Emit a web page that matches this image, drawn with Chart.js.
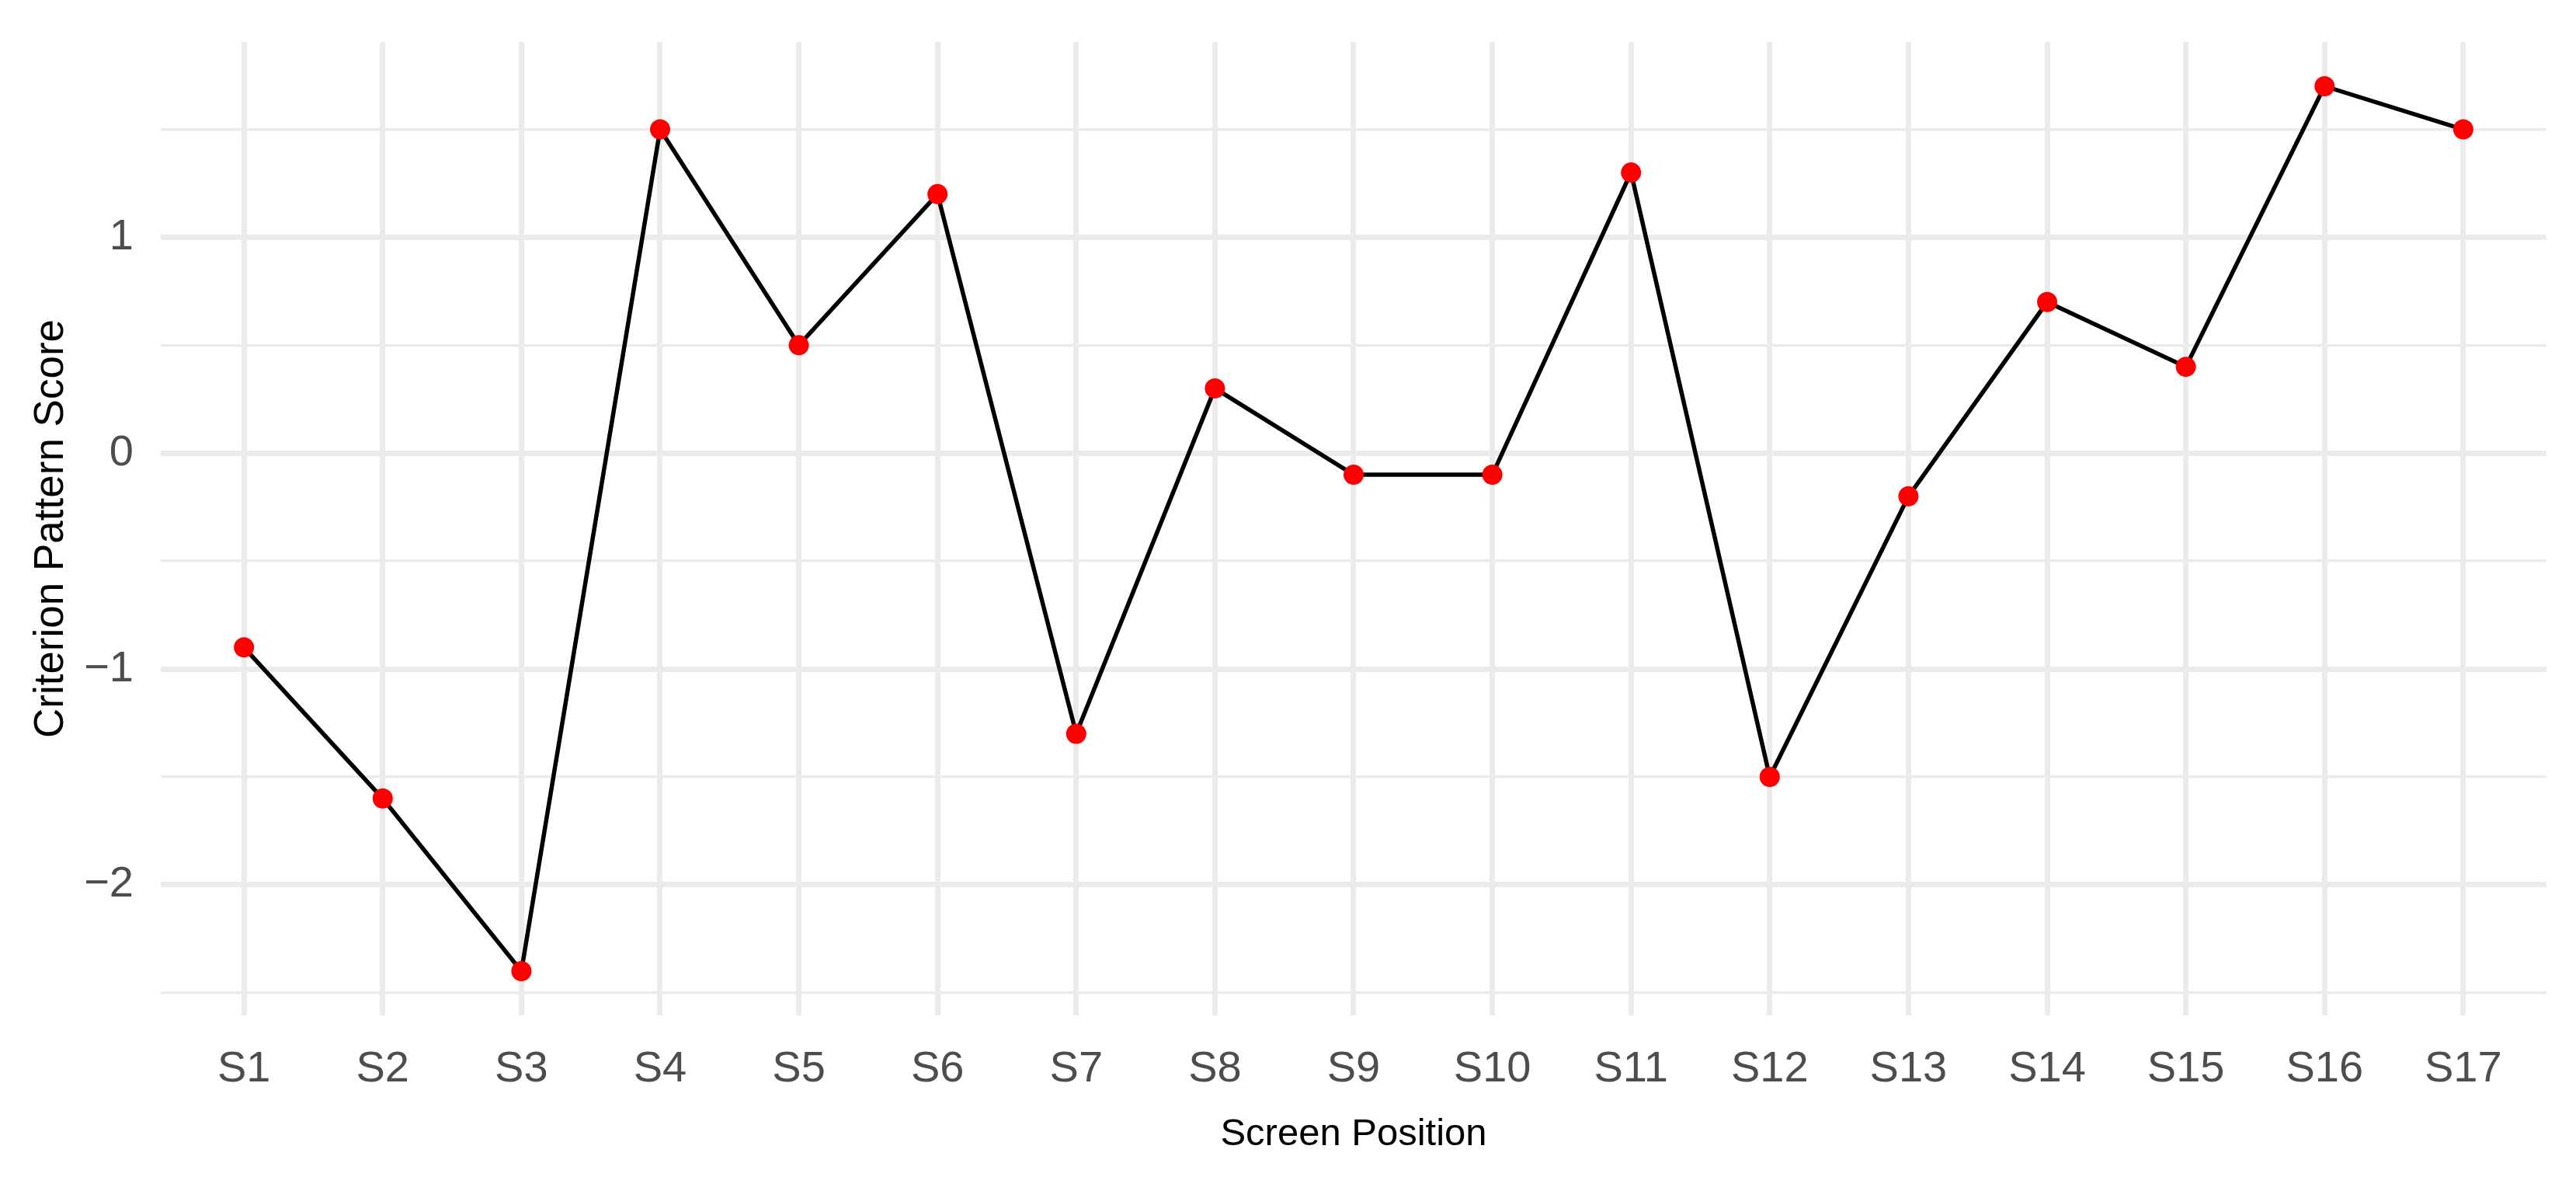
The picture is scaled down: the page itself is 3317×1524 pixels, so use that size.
<!DOCTYPE html>
<html>
<head>
<meta charset="utf-8">
<title>Criterion Pattern Score</title>
<script src="https://cdn.jsdelivr.net/npm/chart.js@4.4.1/dist/chart.umd.min.js"></script>
<style>
  html, body { margin: 0; padding: 0; background: #ffffff; }
  canvas { display: block; }
</style>
</head>
<body>
<canvas id="scoreChart" width="3317" height="1524"></canvas>
<script>
// ---- data ----
const categories = ['S1', 'S2', 'S3', 'S4', 'S5', 'S6', 'S7', 'S8', 'S9', 'S10', 'S11', 'S12', 'S13', 'S14', 'S15', 'S16', 'S17'];
const scores = [-0.9, -1.6, -2.4, 1.5, 0.5, 1.2, -1.3, 0.3, -0.1, -0.1, 1.3, -1.5, -0.2, 0.7, 0.4, 1.7, 1.5];
const yTickValues = [-2.5, -2, -1.5, -1, -0.5, 0, 0.5, 1, 1.5];

// ---- style ----
const FONT = '"Liberation Sans", Arial, sans-serif';
const GRID = '#EBEBEB';

const points = categories.map((c, i) => ({ x: i + 1, y: scores[i] }));

new Chart(document.getElementById('scoreChart').getContext('2d'), {
    type: 'line',
    data: {
        datasets: [{
            data: points,
            borderColor: '#000000',
            borderWidth: 5.5,
            tension: 0,
            pointRadius: 13,
            pointBorderWidth: 0,
            pointBackgroundColor: '#FF0000',
            pointBorderColor: '#FF0000',
            clip: false
        }]
    },
    options: {
        responsive: false,
        animation: false,
        devicePixelRatio: 1,
        layout: { padding: { left: 0, top: 54, right: 38, bottom: 0 } },
        plugins: {
            legend: { display: false },
            tooltip: { enabled: false }
        },
        scales: {
            x: {
                type: 'linear',
                position: 'bottom',
                min: 0.4,
                max: 17.6,
                afterBuildTicks: (scale) => {
                    scale.ticks = categories.map((c, i) => ({ value: i + 1 }));
                },
                afterFit: (scale) => {
                    scale.height = 217;
                    scale.paddingLeft = 0;
                    scale.paddingRight = 0;
                },
                ticks: {
                    autoSkip: false,
                    maxRotation: 0,
                    padding: 36,
                    color: '#4D4D4D',
                    font: { family: FONT, size: 56 },
                    callback: (v) => categories[Math.round(v) - 1] || ''
                },
                grid: { color: GRID, lineWidth: 7, drawTicks: false },
                border: { display: false },
                title: {
                    display: true,
                    text: 'Screen Position',
                    color: '#000000',
                    font: { family: FONT, size: 49 },
                    padding: { top: 0, bottom: 34 }
                }
            },
            y: {
                min: -2.605,
                max: 1.905,
                afterBuildTicks: (scale) => {
                    scale.ticks = yTickValues.map(v => ({ value: v }));
                },
                afterFit: (scale) => {
                    scale.width = 207;
                    scale.paddingTop = 0;
                    scale.paddingBottom = 0;
                },
                ticks: {
                    padding: 35,
                    color: '#4D4D4D',
                    font: { family: FONT, size: 56 },
                    callback: (v) => Number.isInteger(v) ? (v < 0 ? '\u2212' + Math.abs(v) : String(v)) : ''
                },
                grid: {
                    color: GRID,
                    drawTicks: false,
                    lineWidth: (ctx) => Number.isInteger(ctx.tick && ctx.tick.value) ? 7 : 3.5
                },
                border: { display: false },
                title: {
                    display: true,
                    text: 'Criterion Pattern Score',
                    color: '#000000',
                    font: { family: FONT, size: 53 },
                    padding: { top: 35, bottom: 0 }
                }
            }
        }
    }
});
</script>
</body>
</html>
